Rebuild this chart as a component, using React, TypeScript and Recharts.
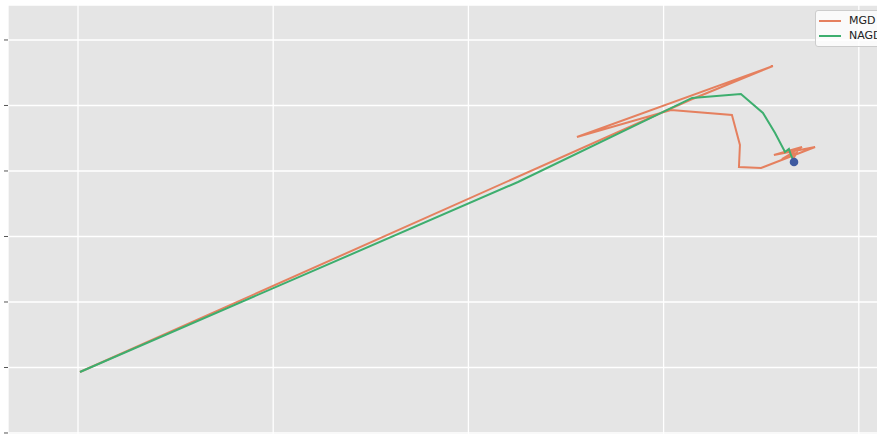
import { ComposedChart, Line, Scatter, XAxis, YAxis, CartesianGrid } from "recharts";

// trajectories (grid units: vertical lines at x = 0..4, horizontal at y = 0..6)
const mgdX = [0.01, 3.135, 3.56, 2.556, 3.038, 3.35, 3.391, 3.386, 3.499, 3.776, 3.565, 3.709, 3.606, 3.68, 3.66];
const mgdY = [0.931, 5.084, 5.603, 4.519, 4.931, 4.855, 4.397, 4.061, 4.046, 4.366, 4.245, 4.366, 4.183, 4.275, 4.16];

const nagdX = [0.01, 2.254, 3.146, 3.396, 3.509, 3.571, 3.622, 3.642, 3.652, 3.668];
const nagdY = [0.931, 3.832, 5.115, 5.176, 4.885, 4.58, 4.29, 4.336, 4.244, 4.137];

const endX = [3.668];
const endY = [4.137];

const xTicks = [0, 1, 2, 3, 4];
const yTicks = [0, 1, 2, 3, 4, 5, 6];

const seriesNames = ["MGD", "NAGD"];
const seriesColors = ["#E5805F", "#3DAE6E"];

const mgd = mgdX.map((x, i) => ({ x, y: mgdY[i] }));
const nagd = nagdX.map((x, i) => ({ x, y: nagdY[i] }));
const end = endX.map((x, i) => ({ x, y: endY[i] }));

function EndDot(props: any) {
  return <circle cx={props.cx} cy={props.cy} r={4.3} fill="#3F5AA0" />;
}

function LegendBox() {
  return (
    <div
      style={{
        position: "absolute",
        left: 815,
        top: 10,
        width: 82,
        padding: "2px 0 3px 0",
        background: "rgba(255,255,255,0.8)",
        border: "1px solid #CCCCCC",
        borderRadius: 3,
        fontFamily: "DejaVu Sans, sans-serif",
        fontSize: 11,
        color: "#222",
      }}
    >
      {seriesNames.map((name, i) => (
        <div key={name} style={{ display: "flex", alignItems: "center", height: 15 }}>
          <div style={{ width: 22, height: 2, background: seriesColors[i], marginLeft: 3, marginRight: 8 }} />
          <span>{name}</span>
        </div>
      ))}
    </div>
  );
}

export default function App() {
  return (
    <div
      style={{
        position: "fixed",
        left: 0,
        top: 0,
        width: 877,
        height: 434,
        overflow: "hidden",
        background: "#fff",
      }}
    >
      <ComposedChart width={900} height={470} margin={{ top: 5, right: 0, left: 0, bottom: 0 }}>
        <CartesianGrid stroke="#fff" strokeWidth={1.3} fill="#E5E5E5" fillOpacity={1} />
        <XAxis
          type="number"
          dataKey="x"
          domain={[-0.3586, 4.211]}
          ticks={xTicks}
          allowDataOverflow
          height={30}
          tickFormatter={() => ""}
          axisLine={false}
          tickSize={4}
          tickLine={{ stroke: "#555" }}
        />
        <YAxis
          type="number"
          dataKey="y"
          domain={[-0.107, 6.534]}
          ticks={yTicks}
          allowDataOverflow
          width={8}
          tickFormatter={() => ""}
          axisLine={false}
          tickSize={4}
          tickLine={{ stroke: "#555" }}
        />
        <Line
          data={mgd}
          dataKey="y"
          name="MGD"
          stroke={seriesColors[0]}
          strokeWidth={2}
          dot={false}
          isAnimationActive={false}
        />
        <Line
          data={nagd}
          dataKey="y"
          name="NAGD"
          stroke={seriesColors[1]}
          strokeWidth={2}
          dot={false}
          isAnimationActive={false}
        />
        <Scatter data={end} dataKey="y" shape={EndDot} isAnimationActive={false} />
      </ComposedChart>
      <LegendBox />
    </div>
  );
}
